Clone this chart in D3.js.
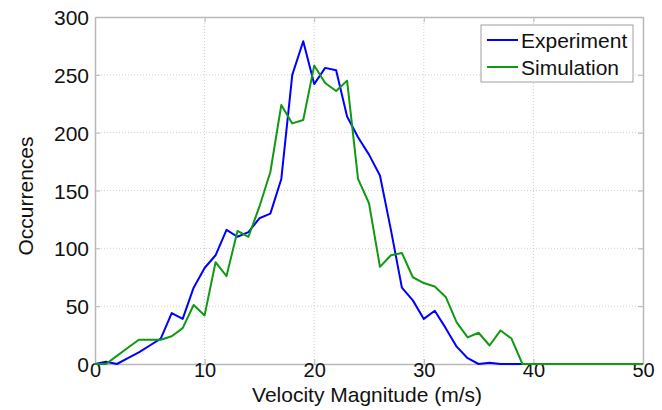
<!DOCTYPE html>
<html>
<head>
<meta charset="utf-8">
<script src="https://cdn.jsdelivr.net/npm/d3@7"></script>
<style>
    body { margin: 0; background: white; }
    text { font-family: "Liberation Sans", Arial, Helvetica, sans-serif; fill: #111; }
</style>
</head>
<body>
<script>
// velocity bins (m/s), one per integer
const velocity = [0, 1, 2, 3, 4, 5, 6, 7, 8, 9, 10, 11, 12, 13, 14, 15, 16, 17, 18, 19, 20,
    21, 22, 23, 24, 25, 26, 27, 28, 29, 30, 31, 32, 33, 34, 35, 36, 37, 38, 39, 40,
    41, 42, 43, 44, 45, 46, 47, 48, 49, 50]

const experiment = [0, 2, 0, 5, 10, 16, 22, 44, 39, 66, 83, 94, 116, 110, 114, 126, 130, 160, 250, 279, 242,
    256, 254, 214, 196, 181, 163, 116, 66, 55, 39, 46, 31, 15, 5, 0, 1, 0, 0, 0, 0,
    0, 0, 0, 0, 0, 0, 0, 0, 0, 0]

const simulation = [0, 0, 7, 14, 21, 21, 21, 24, 31, 51, 42, 88, 76, 115, 110, 136, 166, 224, 208, 211, 258,
    243, 236, 245, 160, 139, 84, 94, 96, 75, 70, 67, 58, 36, 23, 27, 16, 29, 22, 0, 0,
    0, 0, 0, 0, 0, 0, 0, 0, 0, 0]

const xTicks = [0, 10, 20, 30, 40, 50]
const yTicks = [0, 50, 100, 150, 200, 250, 300]

const seriesNames = ['Experiment', 'Simulation']
const seriesColors = ['#0000ff', '#119911']

const W = 662, H = 410
const plotLeft = 95, plotRight = 643, plotTop = 17, plotBottom = 364

const svg = d3.select("body").append("svg")
    .attr("width", W)
    .attr("height", H)

const xScale = d3.scaleLinear().domain([0, 50]).range([plotLeft, plotRight])
const yScale = d3.scaleLinear().domain([0, 300]).range([plotBottom, plotTop])

// grid
svg.append("g")
    .selectAll("line")
    .data(xTicks.slice(1, -1)).enter()
    .append("line")
    .attr("x1", d => xScale(d)).attr("x2", d => xScale(d))
    .attr("y1", plotTop).attr("y2", plotBottom)
    .attr("stroke", "#cfcfcf")
    .attr("stroke-dasharray", "1,2")

svg.append("g")
    .selectAll("line")
    .data(yTicks.slice(1, -1)).enter()
    .append("line")
    .attr("y1", d => yScale(d)).attr("y2", d => yScale(d))
    .attr("x1", plotLeft).attr("x2", plotRight)
    .attr("stroke", "#cfcfcf")
    .attr("stroke-dasharray", "1,2")

// axes with inward ticks
const xAxis = d3.axisBottom(xScale).tickValues(xTicks).tickSizeInner(-5).tickSizeOuter(0).tickPadding(13)
const yAxis = d3.axisLeft(yScale).tickValues(yTicks).tickSizeInner(-5).tickSizeOuter(0).tickPadding(6)

const gx = svg.append("g")
    .attr("transform", `translate(0, ${plotBottom})`)
    .call(xAxis)
const gy = svg.append("g")
    .attr("transform", `translate(${plotLeft}, 0)`)
    .call(yAxis)

svg.append("g")
    .attr("transform", `translate(0, ${plotTop})`)
    .call(d3.axisTop(xScale).tickValues(xTicks).tickSizeInner(-5).tickSizeOuter(0).tickFormat(""))
svg.append("g")
    .attr("transform", `translate(${plotRight}, 0)`)
    .call(d3.axisRight(yScale).tickValues(yTicks).tickSizeInner(-5).tickSizeOuter(0).tickFormat(""))

svg.selectAll(".domain").attr("stroke", "#b8b8b8").attr("stroke-width", 1.5)
svg.selectAll(".tick line").attr("stroke", "#b8b8b8")
svg.selectAll(".tick text")
    .style("font-family", '"Liberation Sans", Arial, sans-serif')
    .style("font-size", "20px")
    .attr("fill", "#111")
gx.selectAll(".tick text").attr("dy", "0")
gy.selectAll(".tick text").attr("dy", "0.36em").style("font-size", "21px")

// lines
const line = d3.line()
    .x((d, i) => xScale(velocity[i]))
    .y(d => yScale(d))

;[experiment, simulation].forEach((s, k) => {
    svg.append("path")
        .datum(s)
        .attr("fill", "none")
        .attr("stroke", seriesColors[k])
        .attr("stroke-width", 2)
        .attr("stroke-linejoin", "round")
        .attr("d", line)
})

// labels
svg.append("text")
    .attr("text-anchor", "middle")
    .attr("x", (plotLeft + plotRight) / 2 - 2)
    .attr("y", 402)
    .style("font-size", "21px")
    .text("Velocity Magnitude (m/s)")

svg.append("text")
    .attr("text-anchor", "middle")
    .attr("transform", "translate(33, 196) rotate(-90)")
    .style("font-size", "21px")
    .text("Occurrences")

// legend
const legend = svg.append("g")
legend.append("rect")
    .attr("x", 481).attr("y", 25)
    .attr("width", 152).attr("height", 57)
    .attr("fill", "white")
    .attr("stroke", "#a0a0a0")

seriesNames.forEach((name, k) => {
    const ly = 40 + k * 27
    legend.append("line")
        .attr("x1", 487).attr("x2", 518)
        .attr("y1", ly).attr("y2", ly)
        .attr("stroke", seriesColors[k])
        .attr("stroke-width", 2)
    legend.append("text")
        .attr("x", 521)
        .attr("y", ly)
        .attr("dy", "0.36em")
        .style("font-size", "21px")
        .text(name)
})
</script>
</body>
</html>
